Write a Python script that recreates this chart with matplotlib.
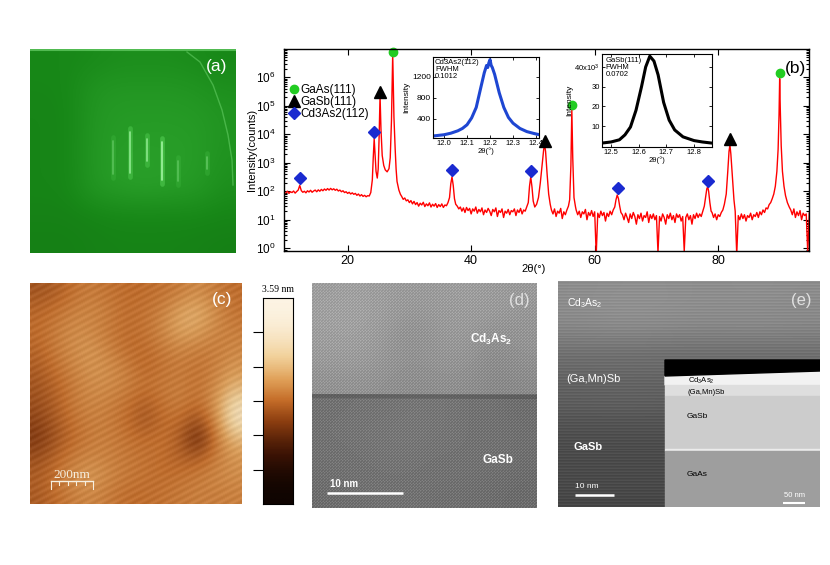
import numpy as np
import matplotlib
matplotlib.use("Agg")
import matplotlib.pyplot as plt
from matplotlib.colors import LinearSegmentedColormap
from matplotlib.ticker import LogLocator, NullFormatter, NullLocator

plt.rcParams['font.family'] = ['Liberation Sans', 'DejaVu Sans']
plt.rcParams['mathtext.fontset'] = 'custom'
plt.rcParams['mathtext.rm'] = 'Liberation Sans'
plt.rcParams['mathtext.it'] = 'Liberation Sans:italic'
plt.rcParams['mathtext.bf'] = 'Liberation Sans:bold'

# ---------------- XRD data, panel (b) ----------------
STEP = 0.25  # spacing of the background readings (deg)
bg_a_x0 = 10.0
bg_a = [88, 100, 84, 96, 90, 102, 86, 98, 110, 160, 105, 92, 100, 88, 104, 94, 108, 92, 102, 110,
        96, 112, 100, 116, 104, 120, 108, 124, 110, 126, 112, 122, 108, 118, 102, 110, 96, 104, 90, 96,
        84, 92, 80, 88, 78, 84, 72, 80, 68, 76, 66, 72, 64, 70, 68, 90]
pk1_x = [24.0, 24.15, 24.3, 24.45, 24.6, 24.8, 24.95, 25.1, 25.25, 25.4, 25.6, 25.85, 26.1, 26.4,
         26.7, 26.9, 27.1, 27.3, 27.5, 27.7, 27.85, 28.0, 28.3, 28.55]
pk1_y = [250, 1500, 7000, 2000, 500, 290, 600, 8000, 230000, 15000, 1800, 800, 560, 480,
         620, 1500, 30000, 6500000, 40000, 3000, 600, 220, 110, 78]
bg_b_x0 = 28.75
bg_b = [66, 52, 58, 46, 50, 40, 47, 36, 44, 34, 40, 30, 38, 33, 41, 29, 36, 31, 39, 28,
        35, 30, 37, 27, 34, 29, 36, 27, 33, 31, 40]
pk2_x = [36.5, 36.7, 36.9, 37.1, 37.3, 37.5]
pk2_y = [60, 180, 320, 160, 55, 35]
bg_c_x0 = 37.75
bg_c = [30, 24, 28, 20, 26, 18, 27, 21, 25, 16, 24, 20, 28, 17, 23, 19, 26, 15, 22, 18,
        25, 20, 14, 23, 19, 26, 13, 21, 18, 24, 12, 20, 17, 23, 15, 21, 19, 24, 14, 22,
        18, 25, 16, 22, 20, 28]
pk3_x = [49.25, 49.45, 49.65, 49.85, 50.05, 50.3, 50.6, 50.9, 51.2, 51.5, 51.75, 51.9, 52.05, 52.3, 52.55, 52.8]
pk3_y = [40, 150, 320, 140, 45, 28, 35, 60, 200, 900, 3000, 4200, 2500, 400, 80, 35]
bg_d_x0 = 53.0
bg_d = [22, 16, 24, 13, 20, 17, 25, 11, 19, 15, 22, 30]
pk4_x = [55.95, 56.15, 56.3, 56.45, 56.65, 56.9]
pk4_y = [50, 800, 75000, 1500, 60, 28]
bg_e_x0 = 57.0
bg_e = [22, 15, 20, 12, 19, 16, 23, 10, 18, 14, 21, 13, 19, 0.6, 17, 12, 20, 14, 18, 9,
        17, 13, 20, 15, 22]
pk5_x = [63.25, 63.45, 63.65, 63.85, 64.05, 64.25]
pk5_y = [28, 50, 74, 55, 30, 18]
bg_f_x0 = 64.5
bg_f = [15, 10, 17, 12, 8, 16, 11, 18, 13, 7, 15, 11, 17, 9, 14, 12, 19, 8, 15, 11,
        16, 10, 14, 0.7, 13, 9, 16, 12, 7, 15, 11, 17, 10, 14, 8, 16, 12, 15, 9, 13,
        0.8, 12, 16, 10, 14, 7, 15, 11, 17, 12, 16, 13, 20]
pk6_x = [77.75, 77.95, 78.15, 78.3, 78.45, 78.65, 78.85]
pk6_y = [30, 60, 120, 145, 100, 40, 20]
bg_g_x0 = 79.0
bg_g = [18, 12, 16, 10, 15, 13, 18, 22, 35]
pk7_x = [81.3, 81.55, 81.75, 81.9, 82.05, 82.3, 82.55]
pk7_y = [80, 500, 2500, 4200, 2000, 300, 50]
bg_h_x0 = 82.75
bg_h = [20, 0.6, 14, 10, 16, 11, 15, 9, 14, 12, 17, 10, 15, 13, 18, 12, 19, 15, 22, 18,
        26, 24, 34, 40]
pk8_x = [88.75, 89.0, 89.25, 89.5, 89.7, 89.85, 89.95, 90.05, 90.2, 90.4, 90.65, 90.9, 91.2, 91.5]
pk8_y = [55, 80, 150, 500, 3000, 50000, 900000, 80000, 4000, 500, 150, 70, 40, 28]
bg_i_x0 = 91.75
bg_i = [22, 15, 24, 12, 19, 14, 21, 10, 17, 14, 16, 0.7, 18, 11, 15]

# peak markers
gaas_x = [27.3, 56.35, 89.95]
gaas_y = [7.9e6, 1.07e5, 1.4e6]
gasb_x = [25.3, 51.9, 81.9]
gasb_y = [3.0e5, 5.8e3, 6.8e3]
cdas_x = [12.3, 24.3, 36.9, 49.7, 63.7, 78.3]
cdas_y = [290, 1.17e4, 540, 520, 127, 235]
legend_labels = ['GaAs(111)', 'GaSb(111)', 'Cd3As2(112)']

# inset: Cd3As2(112) scan
in1_x = [11.95, 11.98, 12.00, 12.03, 12.06, 12.08, 12.10, 12.12, 12.14, 12.16, 12.175, 12.185,
         12.19, 12.195, 12.20, 12.205, 12.21, 12.22, 12.24, 12.26, 12.28, 12.30, 12.33, 12.36, 12.39, 12.41]
in1_y = [75, 90, 100, 130, 175, 220, 290, 420, 620, 1000, 1280, 1420,
         1380, 1470, 1530, 1420, 1380, 1250, 900, 620, 430, 320, 220, 160, 125, 105]
in1_xticks = [12.0, 12.1, 12.2, 12.3, 12.4]
in1_yticks = [400, 800, 1200]
# inset: GaSb(111) scan (intensity in 10^3 counts)
in2_x = [12.47, 12.50, 12.53, 12.55, 12.57, 12.59, 12.61, 12.625, 12.64, 12.655, 12.67, 12.69,
         12.71, 12.73, 12.76, 12.80, 12.83, 12.86]
in2_y = [1.4, 1.9, 3.0, 5.5, 9.5, 18, 30, 40, 45.5, 43, 36, 22, 13, 8, 4.5, 2.6, 1.9, 1.4]
in2_xticks = [12.5, 12.6, 12.7, 12.8]
in2_yticks = [10, 20, 30, 40]
in2_yticklabels = ['10', '20', '30', r'40x10$^{3}$']

# ---------------- photo panels (values read as grey / colour levels) ----------------
rheed_grid = [
    [0.30, 0.30, 0.32, 0.35, 0.35, 0.35, 0.33, 0.30],
    [0.29, 0.30, 0.40, 0.42, 0.42, 0.42, 0.40, 0.36],
    [0.28, 0.29, 0.42, 0.45, 0.45, 0.45, 0.44, 0.40],
    [0.28, 0.29, 0.43, 0.46, 0.47, 0.47, 0.46, 0.40],
    [0.28, 0.29, 0.43, 0.48, 0.50, 0.48, 0.46, 0.38],
    [0.28, 0.29, 0.42, 0.46, 0.48, 0.46, 0.44, 0.35],
    [0.26, 0.26, 0.28, 0.30, 0.30, 0.30, 0.30, 0.28],
    [0.25, 0.25, 0.26, 0.27, 0.27, 0.27, 0.26, 0.25]]
streak_x = [113, 130, 147, 162, 178, 207]
streak_top = [137, 128, 135, 138, 157, 153]
streak_bot = [178, 177, 165, 184, 185, 173]
streak_alpha = [0.35, 0.8, 0.75, 0.95, 0.35, 0.4]
arc_x = [187, 200, 213, 222, 228, 232, 233]
arc_y = [52, 62, 85, 110, 135, 160, 185]

afm_grid = [
    [0.42, 0.45, 0.52, 0.55, 0.52, 0.50, 0.50, 0.52, 0.55, 0.60, 0.55, 0.50],
    [0.48, 0.52, 0.56, 0.58, 0.55, 0.50, 0.52, 0.56, 0.66, 0.70, 0.60, 0.52],
    [0.50, 0.55, 0.60, 0.58, 0.54, 0.50, 0.52, 0.58, 0.68, 0.66, 0.58, 0.55],
    [0.48, 0.55, 0.60, 0.62, 0.56, 0.50, 0.50, 0.55, 0.58, 0.56, 0.55, 0.58],
    [0.45, 0.52, 0.58, 0.62, 0.60, 0.55, 0.48, 0.52, 0.55, 0.52, 0.56, 0.62],
    [0.42, 0.48, 0.55, 0.60, 0.60, 0.56, 0.52, 0.54, 0.55, 0.52, 0.58, 0.70],
    [0.40, 0.46, 0.55, 0.58, 0.56, 0.52, 0.45, 0.52, 0.56, 0.50, 0.62, 0.85],
    [0.36, 0.44, 0.52, 0.56, 0.55, 0.50, 0.42, 0.50, 0.50, 0.38, 0.58, 0.88],
    [0.32, 0.42, 0.50, 0.55, 0.56, 0.52, 0.50, 0.52, 0.45, 0.25, 0.52, 0.72],
    [0.40, 0.48, 0.55, 0.58, 0.56, 0.54, 0.52, 0.50, 0.46, 0.45, 0.55, 0.62],
    [0.45, 0.52, 0.60, 0.64, 0.58, 0.54, 0.52, 0.50, 0.52, 0.55, 0.58, 0.60],
    [0.44, 0.50, 0.56, 0.58, 0.54, 0.50, 0.50, 0.52, 0.54, 0.56, 0.55, 0.56]]
afm_tile = [
    [0.9, 0.9, 0.6, 0.6, 0.3, 0.3, 0.1, 0.1, 0.2, 0.2, 0.5, 0.5, 0.8, 0.8],
    [0.6, 0.6, 0.3, 0.3, 0.1, 0.1, 0.2, 0.2, 0.5, 0.5, 0.8, 0.8, 0.9, 0.9],
    [0.3, 0.3, 0.1, 0.1, 0.2, 0.2, 0.5, 0.5, 0.8, 0.8, 0.9, 0.9, 0.6, 0.6],
    [0.1, 0.1, 0.2, 0.2, 0.5, 0.5, 0.8, 0.8, 0.9, 0.9, 0.6, 0.6, 0.3, 0.3],
    [0.2, 0.2, 0.5, 0.5, 0.8, 0.8, 0.9, 0.9, 0.6, 0.6, 0.3, 0.3, 0.1, 0.1],
    [0.5, 0.5, 0.8, 0.8, 0.9, 0.9, 0.6, 0.6, 0.3, 0.3, 0.1, 0.1, 0.2, 0.2],
    [0.8, 0.8, 0.9, 0.9, 0.6, 0.6, 0.3, 0.3, 0.1, 0.1, 0.2, 0.2, 0.5, 0.5]]
afm_max_nm = 3.59
afm_bar_levels = [1.0, 0.0]  # colour-bar ramp: top = max height, bottom = 0

tem_d_upper = [
    [0.64, 0.65, 0.64, 0.62, 0.63, 0.64, 0.63, 0.62],
    [0.65, 0.66, 0.64, 0.60, 0.62, 0.63, 0.62, 0.60],
    [0.64, 0.65, 0.62, 0.57, 0.61, 0.62, 0.57, 0.60],
    [0.62, 0.63, 0.61, 0.58, 0.60, 0.60, 0.55, 0.58],
    [0.58, 0.59, 0.58, 0.56, 0.57, 0.57, 0.54, 0.55]]
tem_d_lower = [
    [0.44, 0.45, 0.45, 0.46, 0.46, 0.45, 0.44, 0.42],
    [0.45, 0.46, 0.46, 0.47, 0.46, 0.45, 0.44, 0.43],
    [0.44, 0.45, 0.46, 0.46, 0.45, 0.45, 0.44, 0.43],
    [0.43, 0.44, 0.45, 0.45, 0.44, 0.44, 0.43, 0.42],
    [0.42, 0.43, 0.44, 0.44, 0.43, 0.43, 0.42, 0.41]]
lattice_tile = [[1.0, 0.5, 0.2], [0.5, 0.2, 0.5], [0.2, 0.5, 1.0]]

tem_e_grid = [
    [0.55, 0.56, 0.56, 0.55, 0.56, 0.55],
    [0.55, 0.57, 0.56, 0.55, 0.55, 0.54],
    [0.52, 0.54, 0.53, 0.52, 0.53, 0.52],
    [0.45, 0.45, 0.44, 0.44, 0.44, 0.44],
    [0.40, 0.40, 0.40, 0.40, 0.40, 0.40],
    [0.37, 0.38, 0.37, 0.37, 0.37, 0.37],
    [0.35, 0.36, 0.35, 0.35, 0.35, 0.35],
    [0.31, 0.31, 0.31, 0.31, 0.31, 0.31],
    [0.28, 0.28, 0.28, 0.28, 0.28, 0.28],
    [0.27, 0.27, 0.27, 0.27, 0.27, 0.27],
    [0.27, 0.27, 0.27, 0.27, 0.27, 0.27],
    [0.26, 0.26, 0.26, 0.26, 0.26, 0.26]]
fringe_tile = [[1.0], [0.3], [0.6]]
# cross-section inset layers
layer_names = ['Cd3As2', '(Ga,Mn)Sb', 'GaSb', 'edge', 'GaAs']
layer_top = [373, 385, 396, 449, 451]
layer_bot = [385, 396, 449, 451, 507]
layer_grey = [0.95, 0.87, 0.80, 0.92, 0.62]

# ---------------- figure ----------------
W, H = 830, 565
fig = plt.figure(figsize=(W / 100, H / 100), dpi=100)


def px_axes(x0, y0, x1, y1):
    return fig.add_axes([x0 / W, 1 - y1 / H, (x1 - x0) / W, (y1 - y0) / H])


def photo_axes(x0, y0, x1, y1):
    a = px_axes(x0, y0, x1, y1)
    a.set_xlim(x0, x1)
    a.set_ylim(y1, y0)
    a.axis('off')
    return a


# ---- (a) RHEED ----
green = LinearSegmentedColormap.from_list('g', [(0, '#0a5a0a'), (0.3, '#188818'),
                                                (0.5, '#2aa02a'), (1, '#a0ffa0')])
A = (30, 49, 236, 253)
axa = photo_axes(*A)
axa.imshow(np.array(rheed_grid), cmap=green, vmin=0, vmax=1, extent=(A[0], A[2], A[3], A[1]),
           aspect='auto', interpolation='bicubic')
for sx, t, b, al in zip(streak_x, streak_top, streak_bot, streak_alpha):
    axa.plot([sx, sx], [t, b], color='#80ff80', lw=3.4, alpha=al * 0.3, solid_capstyle='round')
    axa.plot([sx, sx], [t + 4, b - 4], color='#b0ffb0', lw=1.2, alpha=al * 0.9, solid_capstyle='round')
axa.plot(arc_x, arc_y, color='#7ae07a', lw=1.0, alpha=0.45)
axa.plot([A[0], A[2]], [50, 50], color='#6ad06a', lw=1.5, alpha=0.7)
axa.set_xlim(A[0], A[2])
axa.set_ylim(A[3], A[1])
axa.text(217, 66, '(a)', color='white', fontsize=12.5, ha='center', va='center')

# ---- (b) XRD ----
xs, ys = [], []
for x0, vals in [(bg_a_x0, bg_a), (bg_b_x0, bg_b), (bg_c_x0, bg_c), (bg_d_x0, bg_d), (bg_e_x0, bg_e),
                 (bg_f_x0, bg_f), (bg_g_x0, bg_g), (bg_h_x0, bg_h), (bg_i_x0, bg_i)]:
    xs.extend(x0 + STEP * np.arange(len(vals)))
    ys.extend(vals)
for pxs, pys in [(pk1_x, pk1_y), (pk2_x, pk2_y), (pk3_x, pk3_y), (pk4_x, pk4_y), (pk5_x, pk5_y),
                 (pk6_x, pk6_y), (pk7_x, pk7_y), (pk8_x, pk8_y)]:
    xs.extend(pxs)
    ys.extend(pys)
order = np.argsort(xs)
two_theta = np.asarray(xs, float)[order]
counts = np.asarray(ys, float)[order]

ax = px_axes(284, 49, 809, 250.7)
ax.semilogy(two_theta, counts, color='#ff0000', lw=1.0)
h1, = ax.plot(gaas_x, gaas_y, 'o', color='#22cc22', ms=6, ls='none', clip_on=False)
h2, = ax.plot(gasb_x, gasb_y, '^', color='black', ms=8, ls='none', clip_on=False)
h3, = ax.plot(cdas_x, cdas_y, 'D', color='#1a2ad0', ms=6, ls='none', clip_on=False)
ax.set_xlim(9.7, 94.7)
ax.set_ylim(0.82, 9.8e6)
ax.set_xticks([20, 40, 60, 80])
ax.xaxis.set_minor_locator(NullLocator())
ax.yaxis.set_major_locator(LogLocator(base=10, numticks=12))
ax.yaxis.set_minor_locator(LogLocator(base=10, subs=np.arange(2, 10), numticks=40))
ax.yaxis.set_minor_formatter(NullFormatter())
ax.tick_params(which='both', direction='in', top=True, right=True, width=0.8)
ax.tick_params(which='major', length=4)
ax.tick_params(which='minor', length=2)
ax.tick_params(axis='x', labelsize=9, pad=3)
ax.tick_params(axis='y', labelsize=8.5, pad=6)
for s in ax.spines.values():
    s.set_linewidth(1.0)
ax.set_ylabel('Intensity(counts)', fontsize=8)
ax.yaxis.set_label_coords(-0.052, 0.5)
ax.set_xlabel('2θ(°)', fontsize=8)
ax.xaxis.set_label_coords(0.476, -0.066)
ax.legend([h1, h2, h3], legend_labels, loc='upper left', bbox_to_anchor=(0.010, 0.827),
          frameon=False, fontsize=8.5, handlelength=0.8, handletextpad=0.15,
          labelspacing=0.0, borderaxespad=0, borderpad=0)
fig.text(795 / W, 1 - 69 / H, '(b)', fontsize=12.5, ha='center', va='center')

# inset 1
ai = px_axes(433, 57, 539, 138)
ai.plot(in1_x, in1_y, color='#1e46d2', lw=2.2)
ai.set_xlim(11.952, 12.413)
ai.set_ylim(38, 1580)
ai.set_xticks(in1_xticks)
ai.set_xticklabels(['%.1f' % v for v in in1_xticks])
ai.set_yticks(in1_yticks)
ai.tick_params(direction='in', top=True, right=True, length=2, width=0.6, pad=1.5)
ai.tick_params(axis='x', labelsize=5.5)
ai.tick_params(axis='y', labelsize=6)
for s in ai.spines.values():
    s.set_linewidth(0.8)
ai.set_ylabel('Intensity', fontsize=6, labelpad=1)
ai.set_xlabel('2θ(°)', fontsize=5.5, labelpad=0.5)
ai.text(0.02, 0.97, 'Cd3As2(112)\nFWHM\n0.1012', transform=ai.transAxes, fontsize=5.5,
        va='top', ha='left', linespacing=1.0)

# inset 2
aj = px_axes(602, 54, 712, 147)
aj.plot(in2_x, in2_y, color='black', lw=2.2)
aj.set_xlim(12.467, 12.865)
aj.set_ylim(-0.66, 46.6)
aj.set_xticks(in2_xticks)
aj.set_xticklabels(['%.1f' % v for v in in2_xticks])
aj.set_yticks(in2_yticks)
aj.set_yticklabels(in2_yticklabels)
aj.tick_params(direction='in', top=True, right=True, length=2, width=0.6, pad=1.5)
aj.tick_params(axis='x', labelsize=5.5)
aj.tick_params(axis='y', labelsize=5.5)
for s in aj.spines.values():
    s.set_linewidth(0.8)
aj.set_ylabel('Intensity', fontsize=6, labelpad=1)
aj.set_xlabel('2θ(°)', fontsize=5.5, labelpad=0.5)
aj.text(0.03, 0.97, 'GaSb(111)\nFWHM\n0.0702', transform=aj.transAxes, fontsize=5.5,
        va='top', ha='left', linespacing=1.0)

# ---- (c) AFM ----
afm_cmap = LinearSegmentedColormap.from_list('afm', [(0, '#000000'), (0.15, '#3a1204'), (0.35, '#8c3e10'),
                                                      (0.5, '#c46c28'), (0.65, '#e0a058'),
                                                      (0.8, '#f2d29c'), (1, '#fffcf5')])
C = (30, 283, 241, 504)
axc = photo_axes(*C)
axc.imshow(np.array(afm_grid), cmap=afm_cmap, vmin=0, vmax=1, extent=(C[0], C[2], C[3], C[1]),
           aspect='auto', interpolation='bicubic')
afm_tex = np.tile(np.array(afm_tile), (32, 16))
axc.imshow(afm_tex, cmap='gray', vmin=0, vmax=1, extent=(C[0], C[2], C[3], C[1]), aspect='auto',
           interpolation='bilinear', alpha=0.08)
axc.set_xlim(C[0], C[2])
axc.set_ylim(C[3], C[1])
axc.text(222, 300, '(c)', color='white', fontsize=12.5, ha='center', va='center')
sb_col = '#f6efdf'
axc.plot([51, 93], [481, 481], color=sb_col, lw=1.0)
for i, tx in enumerate(np.linspace(51, 93, 6)):
    axc.plot([tx, tx], [481, 489 if i in (0, 5) else 485], color=sb_col, lw=0.8)
axc.text(72, 478, '200nm', color=sb_col, fontsize=9.5, ha='center', va='baseline',
         family=['Liberation Serif', 'DejaVu Serif'])

# colour bar of panel (c): plain axes with a colour-map ramp
cax = px_axes(263, 298, 293, 504)
cax.imshow(np.array(afm_bar_levels)[:, None], cmap=afm_cmap, vmin=0, vmax=1, aspect='auto',
           interpolation='bicubic', extent=(0, 1, 0, afm_max_nm))
cax.set_xlim(0, 1)
cax.set_ylim(0, afm_max_nm)
cax.set_xticks([])
cax.set_yticks([afm_max_nm * k / 6 for k in range(1, 6)])
cax.tick_params(axis='y', direction='out', length=7, width=0.8, labelleft=False)
for s in cax.spines.values():
    s.set_linewidth(0.8)
cax.yaxis.get_offset_text().set_visible(False)
cax.yaxis.get_offset_text().set_x(-4)
cax.set_title('%.2f nm' % afm_max_nm, fontsize=7, pad=4,
              family=['Liberation Serif', 'DejaVu Serif'])

# ---- (d) HRTEM ----
D = (312, 283, 537, 508)
axd = photo_axes(*D)
axd.imshow(np.array(tem_d_upper), cmap='gray', vmin=0, vmax=1, extent=(D[0], D[2], 394, D[1]),
           aspect='auto', interpolation='bicubic')
axd.imshow(np.array(tem_d_lower), cmap='gray', vmin=0, vmax=1, extent=(D[0], D[2], D[3], 394),
           aspect='auto', interpolation='bicubic')
tex = np.tile(np.array(lattice_tile), (75, 75))
axd.imshow(tex, cmap='gray', vmin=0, vmax=1, extent=(D[0], D[2], D[3], D[1]), aspect='auto',
           interpolation='nearest', alpha=0.13)
axd.plot([D[0], D[2]], [396, 397], color='#404040', lw=3, alpha=0.35)
axd.set_xlim(D[0], D[2])
axd.set_ylim(D[3], D[1])
axd.text(519, 300, '(d)', color='#e0e0e0', fontsize=12, ha='center', va='center')
axd.text(491, 339, r'Cd$_\mathbf{3}$As$_\mathbf{2}$', color='white', fontsize=8.5, fontweight='bold',
         ha='center', va='center')
axd.text(498, 460, 'GaSb', color='white', fontsize=8.5, fontweight='bold', ha='center', va='center')
axd.plot([327, 403], [493, 493], color='white', lw=1.8, solid_capstyle='butt')
axd.text(330, 489, '10 nm', color='white', fontsize=7, fontweight='bold', ha='left', va='bottom')

# ---- (e) STEM ----
E = (558, 281, 820, 507)
axe = photo_axes(*E)
axe.imshow(np.array(tem_e_grid), cmap='gray', vmin=0, vmax=1, extent=(E[0], E[2], E[3], E[1]),
           aspect='auto', interpolation='bicubic')
fr = np.tile(np.array(fringe_tile), (76, 262))
axe.imshow(fr, cmap='gray', vmin=0, vmax=1, extent=(E[0], E[2], E[3], E[1]), aspect='auto',
           interpolation='nearest', alpha=0.07)
axe.set_xlim(E[0], E[2])
axe.set_ylim(E[3], E[1])
axe.text(801, 300, '(e)', color='#e0e0e0', fontsize=12, ha='center', va='center')
axe.text(567, 303, r'Cd$_3$As$_2$', color='white', fontsize=7.5, ha='left', va='center')
axe.text(566, 379, '(Ga,Mn)Sb', color='white', fontsize=8, ha='left', va='center')
axe.text(573, 447, 'GaSb', color='white', fontsize=8, fontweight='bold', ha='left', va='center')
axe.plot([575, 614], [495, 495], color='white', lw=1.8, solid_capstyle='butt')
axe.text(575, 490, '10 nm', color='white', fontsize=6, ha='left', va='bottom')
# cross-section inset
axe.fill([665, 820, 820, 665], [360, 360, 371, 376], color='black', zorder=3)
for nm, t, b, g in zip(layer_names, layer_top, layer_bot, layer_grey):
    axe.fill([665, 820, 820, 665], [t if nm != 'Cd3As2' else 376, t if nm != 'Cd3As2' else 371, b, b],
             color=str(g), zorder=2)
axe.text(688, 381, r'Cd$_3$As$_2$', color='black', fontsize=5.5, ha='left', va='center', zorder=4)
axe.text(687, 392, '(Ga,Mn)Sb', color='black', fontsize=5.5, ha='left', va='center', zorder=4)
axe.text(687, 417, 'GaSb', color='black', fontsize=6, ha='left', va='center', zorder=4)
axe.text(687, 475, 'GaAs', color='black', fontsize=6, ha='left', va='center', zorder=4)
axe.plot([783, 805], [503, 503], color='white', lw=1.5, solid_capstyle='butt', zorder=4)
axe.text(794, 499, '50 nm', color='white', fontsize=5.5, ha='center', va='bottom', zorder=4)

fig.savefig('out.png', dpi=100)
